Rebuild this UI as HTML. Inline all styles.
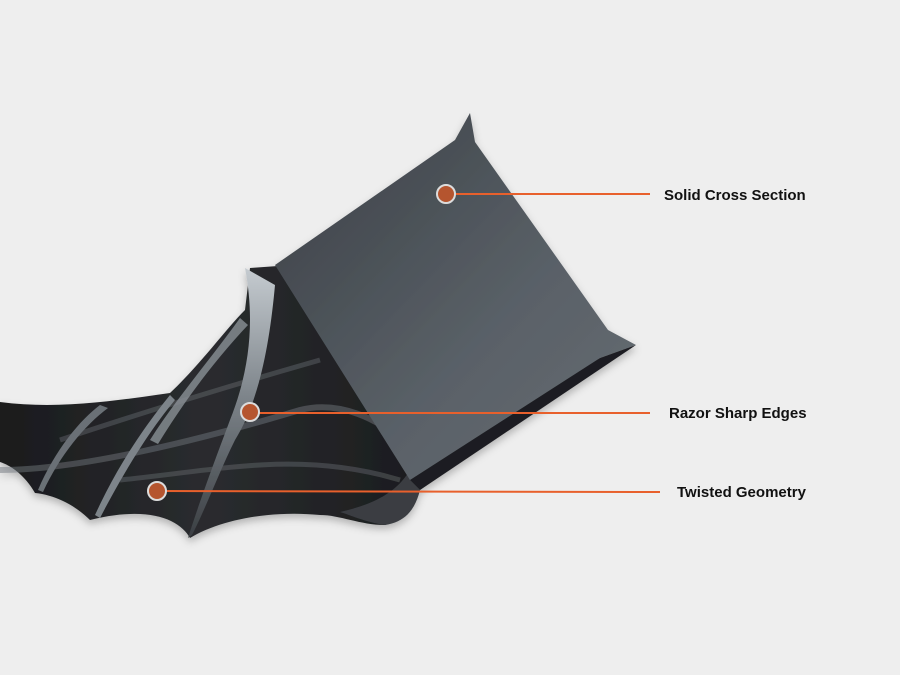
<!DOCTYPE html>
<html><head><style>
html,body{margin:0;padding:0;background:#eeeeee;}
svg{display:block}
text{font-family:"Liberation Sans",sans-serif;font-weight:bold;font-size:15px;fill:#111}
</style></head><body>
<svg width="900" height="675" viewBox="0 0 900 675">
<defs>
<linearGradient id="face" x1="0" y1="0" x2="1" y2="1">
<stop offset="0" stop-color="#3a3f44"/><stop offset="0.6" stop-color="#5a6168"/><stop offset="1" stop-color="#666d73"/>
</linearGradient>
<linearGradient id="body" x1="0" y1="0" x2="1" y2="0">
<stop offset="0" stop-color="#1a1b1d"/><stop offset="0.5" stop-color="#2a2c2f"/><stop offset="1" stop-color="#1c1d1f"/>
</linearGradient>
<linearGradient id="rib" x1="0" y1="0" x2="0" y2="1">
<stop offset="0" stop-color="#c5cbd0"/><stop offset="0.5" stop-color="#7a8187"/><stop offset="1" stop-color="#3a3e42"/>
</linearGradient>
<filter id="sh" x="-10%" y="-10%" width="120%" height="130%"><feDropShadow dx="0" dy="4" stdDeviation="4" flood-opacity="0.25"/></filter>
</defs>
<g filter="url(#sh)">
<path d="M0,402 C60,410 120,400 170,393 C200,365 225,330 245,310 L250,268 L278,266 L410,470 C412,500 405,520 385,525 C360,525 340,515 320,515 C270,510 220,520 190,538 C180,520 150,505 90,520 C75,505 55,495 35,493 C25,475 10,465 0,462 Z" fill="url(#body)"/>
<path d="M0,470 C80,470 200,440 300,410 C340,400 380,420 400,440" stroke="#6d7379" stroke-width="6" fill="none" opacity="0.5"/>
<path d="M60,440 C150,410 250,380 320,360" stroke="#6d7379" stroke-width="5" fill="none" opacity="0.4"/>
<path d="M120,480 C220,470 300,450 400,480" stroke="#6d7379" stroke-width="5" fill="none" opacity="0.4"/>
<path d="M245,268 L275,285 C270,340 260,400 235,440 C220,470 205,510 192,535 L188,538 C200,500 215,460 230,420 C250,370 255,320 245,268 Z" fill="url(#rib)"/>
<path d="M170,395 C150,420 120,460 95,515 L100,518 C125,470 150,430 175,400 Z" fill="#7d848a"/>
<path d="M100,405 C80,420 55,450 38,490 L43,492 C60,455 85,425 108,408 Z" fill="#6a7076"/>
<path d="M240,318 C210,360 175,400 150,440 L158,444 C185,400 215,360 248,325 Z" fill="#8a9096" opacity="0.8"/>
<path d="M410,470 L420,490 C415,510 405,522 385,525 C365,522 350,515 340,512 C370,505 395,495 410,470 Z" fill="#3a3e42"/>
<path d="M275,265 L455,140 L470,113 L475,142 L608,330 L636,345 L600,358 L420,490 L410,480 Z" fill="url(#face)"/>
<path d="M600,358 L636,345 L420,490 L410,480 Z" fill="#1e1f21"/>
</g>
<line x1="446" y1="194" x2="650" y2="194" stroke="#e8602c" stroke-width="2"/>
<line x1="250" y1="413" x2="650" y2="413" stroke="#e8602c" stroke-width="2"/>
<line x1="157" y1="491" x2="660" y2="492" stroke="#e8602c" stroke-width="2"/>
<circle cx="446" cy="194" r="9" fill="#b5552f" stroke="#dcdcdc" stroke-width="2"/>
<circle cx="250" cy="412" r="9" fill="#b5552f" stroke="#dcdcdc" stroke-width="2"/>
<circle cx="157" cy="491" r="9" fill="#b5552f" stroke="#dcdcdc" stroke-width="2"/>
<text x="664" y="200">Solid Cross Section</text>
<text x="669" y="418">Razor Sharp Edges</text>
<text x="677" y="497">Twisted Geometry</text>
</svg>
</body></html>
